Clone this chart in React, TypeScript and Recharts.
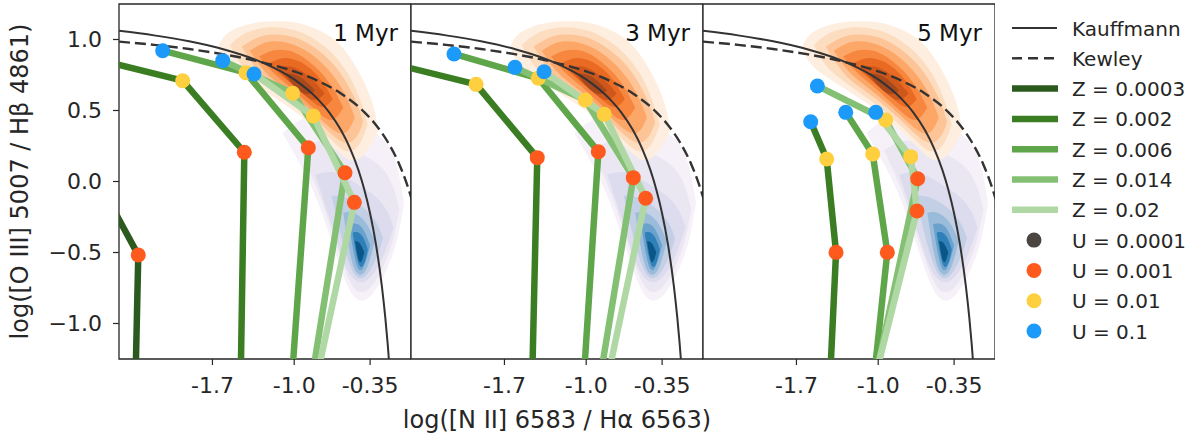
import { ComposedChart, XAxis, YAxis, Line, Area, Scatter, ReferenceArea } from "recharts";

const FONT = "DejaVu Sans";
const INK = "#262626";

const PANEL_TITLES = ["1 Myr", "3 Myr", "5 Myr"];
const X_DOMAIN = [-2.5, 0];
const Y_DOMAIN = [-1.25, 1.25];
const X_TICKS = [-1.7, -1.0, -0.35];
const X_TICK_LABELS = ["-1.7", "-1.0", "-0.35"];
const Y_TICKS = [1.0, 0.5, 0.0, -0.5, -1.0];
const Y_TICK_LABELS = ["1.0", "0.5", "0.0", "−0.5", "−1.0"];
const X_LABEL = "log([N II] 6583 / Hα 6563)";
const Y_LABEL = "log([O III] 5007 / Hβ 4861)";

// demarcation curves
const KAUFFMANN_X = [-2.5, -2.2, -1.9, -1.6, -1.3, -1.0, -0.8, -0.7, -0.6, -0.52, -0.45, -0.4, -0.35, -0.3, -0.25, -0.22, -0.2, -0.18];
const KAUFFMANN_Y = [1.061, 1.029, 0.987, 0.93, 0.848, 0.719, 0.582, 0.487, 0.362, 0.23, 0.08, -0.056, -0.225, -0.443, -0.733, -0.959, -1.14, -1.352];
const KEWLEY_X = [-2.5, -2.2, -1.9, -1.6, -1.3, -1.0, -0.8, -0.6, -0.4, -0.3, -0.2, -0.1, -0.05, 0.0, 0.05];
const KEWLEY_Y = [0.985, 0.962, 0.933, 0.895, 0.845, 0.775, 0.71, 0.62, 0.489, 0.398, 0.28, 0.12, 0.017, -0.108, -0.262];

const Z_LABELS = ["Z = 0.0003", "Z = 0.002", "Z = 0.006", "Z = 0.014", "Z = 0.02"];
const Z_COLORS = ["#2a5a1d", "#3a7d23", "#5fa64a", "#84c074", "#b0d8a4"];
const U_LABELS = ["U = 0.0001", "U = 0.001", "U = 0.01", "U = 0.1"];
const U_COLORS = ["#4a4541", "#fe5a1d", "#fecf3e", "#1b9af9"];

// model tracks: per Z, points for U = 0.1, 0.01, 0.001, 0.0001 as [x, y]
const MYR1_TRACKS = [
  [[-2.95, 0.25], [-2.65, -0.04], [-2.335, -0.518], [-2.364, -1.6]],
  [[-2.663, 0.854], [-1.955, 0.71], [-1.427, 0.206], [-1.462, -1.6]],
  [[-2.126, 0.921], [-1.413, 0.766], [-0.879, 0.238], [-1.038, -1.6]],
  [[-1.612, 0.851], [-1.013, 0.621], [-0.565, 0.062], [-0.89, -1.6]],
  [[-1.344, 0.757], [-0.836, 0.461], [-0.485, -0.147], [-0.864, -1.6]],
];
const MYR3_TRACKS = [
  null,
  [[-2.65, 0.828], [-1.943, 0.684], [-1.419, 0.168], [-1.468, -1.6]],
  [[-2.132, 0.898], [-1.41, 0.727], [-0.896, 0.21], [-1.037, -1.6]],
  [[-1.61, 0.804], [-1.008, 0.574], [-0.597, 0.027], [-0.924, -1.6]],
  [[-1.361, 0.773], [-0.845, 0.473], [-0.491, -0.118], [-0.872, -1.6]],
];
const MYR5_TRACKS = [
  null,
  [[-1.578, 0.421], [-1.441, 0.158], [-1.361, -0.499], [-1.424, -1.6]],
  [[-1.278, 0.487], [-1.047, 0.194], [-0.922, -0.499], [-1.064, -1.6]],
  [[-1.521, 0.673], [-0.936, 0.433], [-0.662, 0.019], [-1.081, -1.6]],
  [[-1.021, 0.487], [-0.722, 0.175], [-0.668, -0.208], [-1.094, -1.6]],
];
const TRACKS = [MYR1_TRACKS, MYR3_TRACKS, MYR5_TRACKS];

// density contours, each level as [x, low, high]
const SF_LEVELS = [
  [[-1.1, 0.34, 0.34], [-0.95, 0.13, 0.45], [-0.8, -0.12, 0.46], [-0.65, -0.5, 0.43], [-0.5, -0.86, 0.4], [-0.35, -0.84, 0.37], [-0.22, -0.65, 0.3], [-0.12, -0.45, 0.15], [-0.06, -0.15, -0.15]],
  [[-0.95, 0.22, 0.22], [-0.8, -0.04, 0.3], [-0.65, -0.42, 0.28], [-0.5, -0.8, 0.22], [-0.36, -0.78, 0.17], [-0.24, -0.62, 0.1], [-0.15, -0.42, -0.02], [-0.1, -0.2, -0.2]],
  [[-0.82, 0.05, 0.05], [-0.68, -0.3, 0.08], [-0.55, -0.66, 0.03], [-0.42, -0.74, -0.04], [-0.3, -0.64, -0.1], [-0.2, -0.46, -0.2], [-0.15, -0.32, -0.32]],
  [[-0.68, -0.1, -0.1], [-0.58, -0.46, -0.1], [-0.48, -0.7, -0.14], [-0.38, -0.68, -0.2], [-0.28, -0.52, -0.3], [-0.24, -0.4, -0.4]],
  [[-0.58, -0.22, -0.22], [-0.51, -0.6, -0.21], [-0.44, -0.68, -0.24], [-0.37, -0.62, -0.3], [-0.31, -0.42, -0.42]],
  [[-0.53, -0.3, -0.3], [-0.47, -0.63, -0.29], [-0.41, -0.64, -0.32], [-0.35, -0.45, -0.45]],
  [[-0.5, -0.36, -0.36], [-0.45, -0.62, -0.35], [-0.4, -0.6, -0.4], [-0.37, -0.48, -0.48]],
  [[-0.48, -0.42, -0.42], [-0.44, -0.62, -0.42], [-0.4, -0.5, -0.5]],
];
const AGN_LEVELS = [
  [[-1.65, 0.95, 0.95], [-1.6, 0.83, 1.04], [-1.45, 0.74, 1.1], [-1.3, 0.66, 1.125], [-1.15, 0.58, 1.13], [-0.98, 0.49, 1.125], [-0.81, 0.36, 1.08], [-0.64, 0.22, 1.0], [-0.52, 0.13, 0.88], [-0.41, 0.17, 0.72], [-0.32, 0.29, 0.55], [-0.28, 0.36, 0.36]],
  [[-1.55, 0.96, 0.96], [-1.45, 0.8, 1.04], [-1.3, 0.71, 1.08], [-1.15, 0.62, 1.09], [-0.98, 0.52, 1.07], [-0.81, 0.4, 1.0], [-0.66, 0.27, 0.9], [-0.54, 0.19, 0.77], [-0.44, 0.24, 0.6], [-0.37, 0.4, 0.4]],
  [[-1.45, 0.95, 0.95], [-1.3, 0.75, 1.03], [-1.15, 0.66, 1.04], [-0.98, 0.56, 1.02], [-0.81, 0.44, 0.94], [-0.66, 0.31, 0.83], [-0.54, 0.25, 0.69], [-0.45, 0.32, 0.53], [-0.41, 0.42, 0.42]],
  [[-1.38, 0.92, 0.92], [-1.25, 0.76, 0.99], [-1.1, 0.67, 0.99], [-0.95, 0.57, 0.95], [-0.8, 0.46, 0.87], [-0.66, 0.35, 0.75], [-0.55, 0.32, 0.6], [-0.48, 0.45, 0.45]],
  [[-1.3, 0.88, 0.88], [-1.18, 0.76, 0.93], [-1.05, 0.68, 0.93], [-0.92, 0.58, 0.88], [-0.79, 0.48, 0.79], [-0.67, 0.4, 0.67], [-0.58, 0.52, 0.52]],
  [[-1.22, 0.83, 0.83], [-1.1, 0.74, 0.88], [-0.98, 0.66, 0.86], [-0.86, 0.57, 0.8], [-0.75, 0.5, 0.7], [-0.67, 0.58, 0.58]],
  [[-1.15, 0.8, 0.8], [-1.04, 0.7, 0.82], [-0.93, 0.62, 0.78], [-0.82, 0.55, 0.7], [-0.74, 0.62, 0.62]],
  [[-1.08, 0.76, 0.76], [-0.99, 0.66, 0.76], [-0.9, 0.6, 0.71], [-0.82, 0.64, 0.64]],
];
const SF_COLORS = ["#f6f1f8", "#ebe7f2", "#dcdcee", "#c3cfe5", "#9bbbdb", "#6aa2cd", "#2f80b8", "#0b5687"];
const AGN_COLORS = ["#feeee0", "#fdddbf", "#fdc597", "#fca768", "#f7863e", "#e96a22", "#cf571b", "#a8491d"];

const PLOT_LEFT = [119, 411, 703];
const PLOT_W = 292;

const toXY = (xs: number[], ys: number[]) => xs.map((x, i) => ({ x, y: ys[i] }));
const toRange = (lvl: number[][]) => lvl.map(([x, lo, hi]) => ({ x, r: [lo, hi] }));
const inside = (x: number, y: number) =>
  x >= X_DOMAIN[0] && x <= X_DOMAIN[1] && y >= Y_DOMAIN[0] && y <= Y_DOMAIN[1];

const XTick = (p: any) => (
  <text x={p.x} y={p.y} dy="0.74em" textAnchor="middle" fontSize={22} fontFamily={FONT} fill={INK}>
    {X_TICK_LABELS[X_TICKS.indexOf(p.payload.value)]}
  </text>
);
const YTick = (p: any) => (
  <text x={p.x} y={p.y} dy="0.36em" textAnchor="end" fontSize={22} fontFamily={FONT} fill={INK}>
    {Y_TICK_LABELS[Y_TICKS.indexOf(p.payload.value)]}
  </text>
);

function Panel({ i }: { i: number }) {
  const yw = i === 0 ? PLOT_LEFT[0] : 20;
  const tracks = TRACKS[i];
  const markers: { x: number; y: number; color: string }[] = [];
  tracks.forEach((t) => {
    if (!t) return;
    t.forEach(([x, y], k) => {
      if (inside(x, y)) markers.push({ x, y, color: U_COLORS[3 - k] });
    });
  });
  return (
    <div style={{ position: "absolute", left: PLOT_LEFT[i] - yw, top: 0 }}>
      <ComposedChart width={yw + PLOT_W} height={434} margin={{ top: 4, right: 0, bottom: 0, left: 0 }}>
        <XAxis
          type="number"
          dataKey="x"
          domain={X_DOMAIN}
          allowDataOverflow
          ticks={X_TICKS}
          interval={0}
          height={75}
          tickSize={6}
          tickMargin={12}
          axisLine={false}
          tickLine={{ stroke: INK, strokeWidth: 1.2 }}
          tick={XTick}
        />
        <YAxis
          type="number"
          dataKey="y"
          domain={Y_DOMAIN}
          allowDataOverflow
          ticks={Y_TICKS}
          interval={0}
          width={yw}
          tickSize={6}
          tickMargin={11}
          axisLine={false}
          tickLine={{ stroke: INK, strokeWidth: 1.2 }}
          tick={i === 0 ? YTick : false}
          label={i === 0 ? { value: Y_LABEL, angle: -90, position: "insideLeft", offset: 19, style: { textAnchor: "middle" }, fill: INK, fontSize: 24, fontFamily: FONT } : undefined}
        />
        {SF_LEVELS.map((lvl, k) => (
          <Area key={`sf${k}`} data={toRange(lvl)} dataKey="r" type="basis" stroke="none" fill={SF_COLORS[k]} fillOpacity={1} isAnimationActive={false} />
        ))}
        {AGN_LEVELS.map((lvl, k) => (
          <Area key={`agn${k}`} data={toRange(lvl)} dataKey="r" type="basis" stroke="none" fill={AGN_COLORS[k]} fillOpacity={1} isAnimationActive={false} />
        ))}
        <Line data={toXY(KAUFFMANN_X, KAUFFMANN_Y)} dataKey="y" type="monotone" stroke="#333" strokeWidth={2} dot={false} activeDot={false} isAnimationActive={false} />
        <Line data={toXY(KEWLEY_X, KEWLEY_Y)} dataKey="y" type="monotone" stroke="#333" strokeWidth={2.4} strokeDasharray="11 5" dot={false} activeDot={false} isAnimationActive={false} />
        {tracks.map((t, zi) =>
          t ? (
            <Line
              key={`z${zi}`}
              data={t.map(([x, y]) => ({ x, y }))}
              dataKey="y"
              type="linear"
              stroke={Z_COLORS[zi]}
              strokeWidth={6.5}
              strokeLinejoin="round"
              dot={false}
              activeDot={false}
              isAnimationActive={false}
            />
          ) : null
        )}
        <Scatter
          data={markers}
          dataKey="y"
          isAnimationActive={false}
          shape={(p: any) => <circle cx={p.cx} cy={p.cy} r={7.5} fill={p.payload.color} />}
        />
        <ReferenceArea x1={X_DOMAIN[0]} x2={X_DOMAIN[1]} y1={Y_DOMAIN[0]} y2={Y_DOMAIN[1]} fill="none" stroke={INK} strokeWidth={1.3} ifOverflow="visible" />
      </ComposedChart>
    </div>
  );
}

function Overlay() {
  const rowY = (k: number) => 28 + k * 30.3;
  const hx0 = 1012;
  const hx1 = 1057;
  const tx = 1072;
  const mid = (PLOT_LEFT[0] + PLOT_LEFT[2] + PLOT_W) / 2;
  return (
    <svg width={1195} height={434} style={{ position: "absolute", left: 0, top: 0, pointerEvents: "none" }}>
      {PANEL_TITLES.map((t, i) => (
        <text key={t} x={PLOT_LEFT[i] + PLOT_W - 13} y={40.5} textAnchor="end" fontSize={23} fontFamily={FONT} fill="#111">
          {t}
        </text>
      ))}
      <text x={mid} y={428} textAnchor="middle" fontSize={24} fontFamily={FONT} fill={INK}>
        {X_LABEL}
      </text>
      <line x1={hx0} x2={hx1} y1={rowY(0)} y2={rowY(0)} stroke="#333" strokeWidth={2} />
      <text x={tx} y={rowY(0) + 7.5} fontSize={20} fontFamily={FONT} fill={INK}>Kauffmann</text>
      <line x1={hx0} x2={hx1} y1={rowY(1)} y2={rowY(1)} stroke="#333" strokeWidth={2.4} strokeDasharray="10 6" />
      <text x={tx} y={rowY(1) + 7.5} fontSize={20} fontFamily={FONT} fill={INK}>Kewley</text>
      {Z_LABELS.map((lab, k) => (
        <g key={lab}>
          <line x1={hx0} x2={hx1 + 1} y1={rowY(2 + k)} y2={rowY(2 + k)} stroke={Z_COLORS[k]} strokeWidth={6.5} />
          <text x={tx} y={rowY(2 + k) + 7.5} fontSize={20} fontFamily={FONT} fill={INK}>{lab}</text>
        </g>
      ))}
      {U_LABELS.map((lab, k) => (
        <g key={lab}>
          <circle cx={1034} cy={rowY(7 + k)} r={7.5} fill={U_COLORS[k]} />
          <text x={tx} y={rowY(7 + k) + 7.5} fontSize={20} fontFamily={FONT} fill={INK}>{lab}</text>
        </g>
      ))}
    </svg>
  );
}

export default function App() {
  return (
    <div style={{ position: "absolute", left: 0, top: 0, width: 1195, height: 434, background: "#fff", overflow: "hidden" }}>
      <Panel i={0} />
      <Panel i={1} />
      <Panel i={2} />
      <Overlay />
    </div>
  );
}
